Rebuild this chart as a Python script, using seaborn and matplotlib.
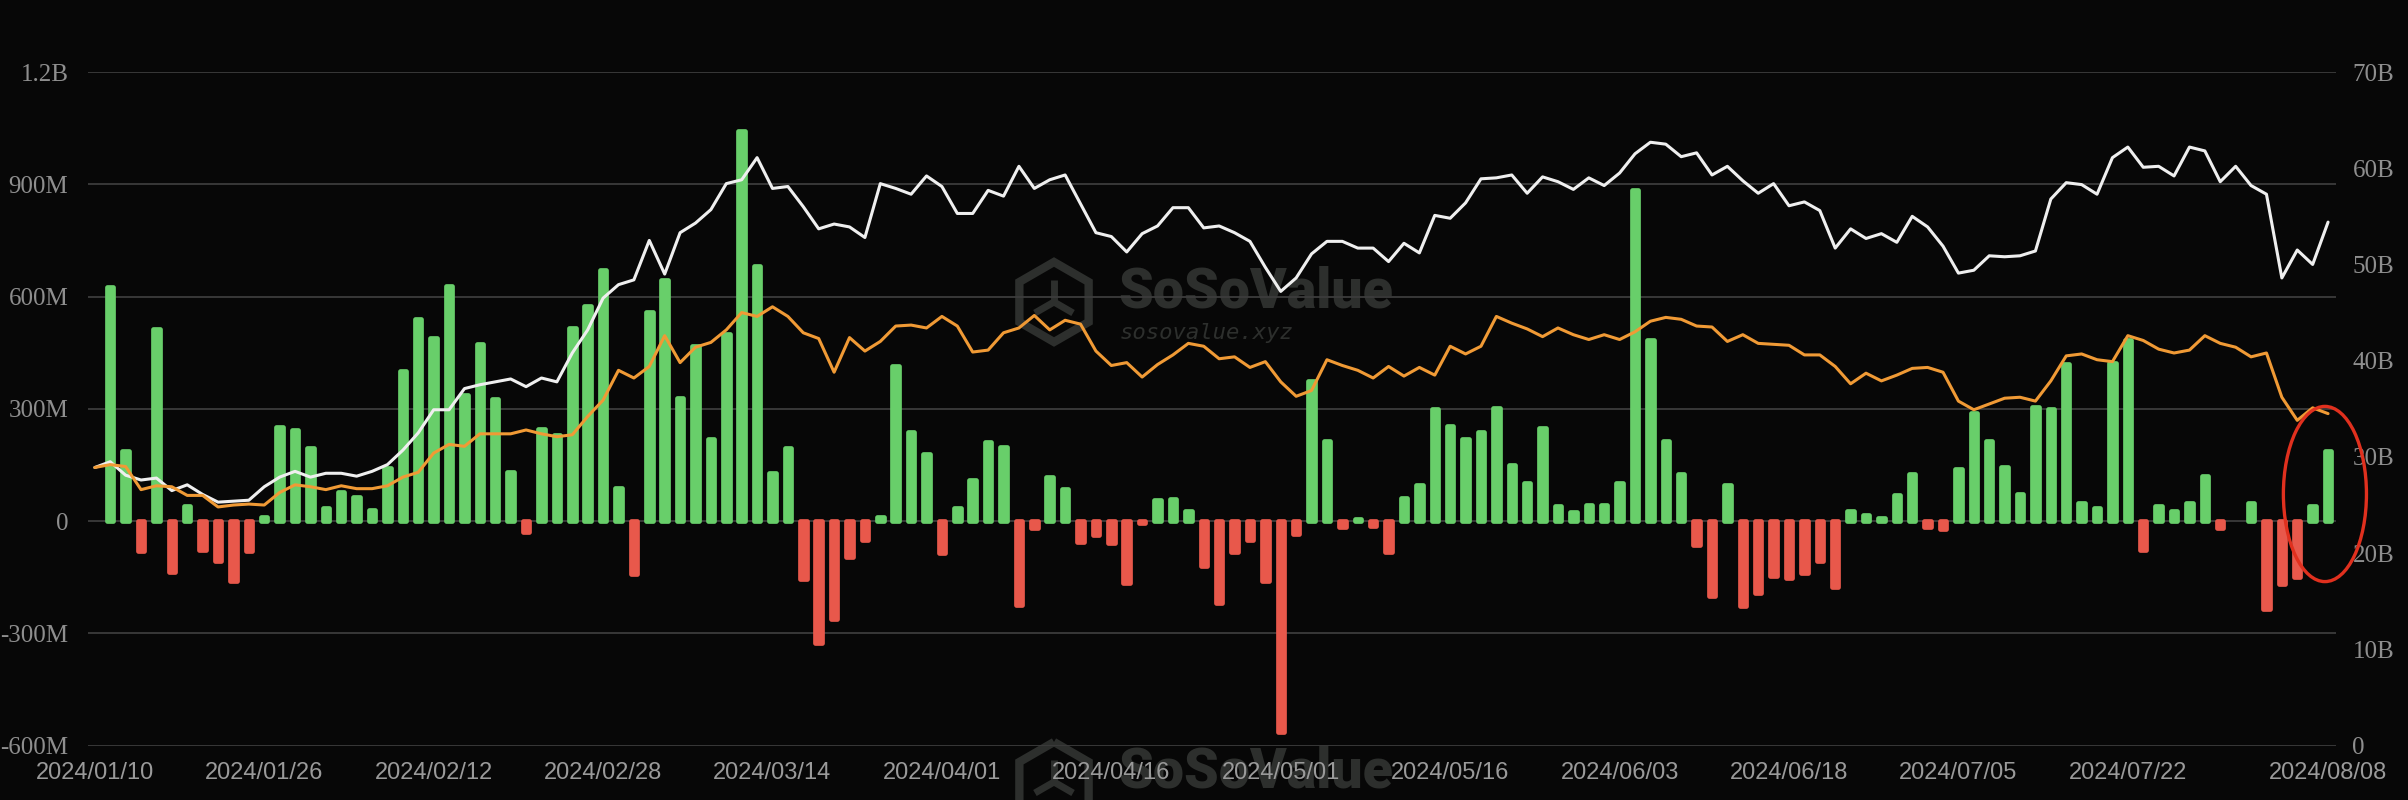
import numpy as np
import pandas as pd
import matplotlib
matplotlib.use("Agg")
import matplotlib.pyplot as plt
from matplotlib.patches import Ellipse, RegularPolygon
from matplotlib.lines import Line2D
import seaborn as sns

# trading days shown on the chart (2024/01/10 .. 2024/08/08)
holidays = ["2024-01-15", "2024-02-19", "2024-03-29", "2024-05-27", "2024-06-19", "2024-07-04"]
dates = pd.bdate_range("2024-01-10", "2024-08-08", freq="C", holidays=holidays)

# daily total net inflow, millions USD (bars, left axis)
net_inflow = [
    0, 625, 187, -80, 514, -136, 40, -77, -106, -160,
    -80, 12, 252, 243, 194, 34, 77, 65, 30, 142,
    401, 539, 490, 627, 336, 474, 326, 131, -30, 247,
    229, 516, 574, 671, 88, -142, 560, 645, 329, 469,
    219, 500, 1043, 682, 129, 194, -155, -327, -262, -95,
    -51, 10, 414, 239, 179, -86, 34, 109, 210, 199,
    -223, -19, 119, 87, -55, -38, -58, -165, -6, 56,
    60, 27, -120, -219, -83, -51, -161, -564, -35, 374,
    213, -16, 6, -12, -83, 62, 96, 299, 253, 218,
    238, 301, 149, 103, 248, 40, 23, 44, 44, 101,
    884, 484, 214, 127, -65, -200, 96, -226, -191, -147,
    -152, -140, -106, -175, 27, 17, 8, 69, 127, -16,
    -21, 138, 290, 213, 144, 73, 306, 299, 421, 49,
    34, 423, 484, -77, 40, 27, 47, 121, -18, 0,
    47, -236, -168, -149, 40, 188,
]

# total net assets, billions USD (white line, right axis)
net_assets = [
    28.9, 29.5, 28.1, 27.6, 27.8, 26.5, 27.1, 26.1, 25.3, 25.4,
    25.5, 26.9, 27.9, 28.5, 27.9, 28.3, 28.3, 28.0, 28.5, 29.2,
    30.7, 32.5, 34.9, 34.9, 37.1, 37.5, 37.8, 38.1, 37.3, 38.2,
    37.8, 40.8, 43.2, 46.5, 47.9, 48.4, 52.5, 49.0, 53.3, 54.3,
    55.7, 58.4, 58.8, 61.1, 57.9, 58.1, 56.0, 53.7, 54.2, 53.9,
    52.8, 58.4, 57.9, 57.3, 59.2, 58.1, 55.3, 55.3, 57.7, 57.1,
    60.2, 57.9, 58.8, 59.3, 56.3, 53.3, 52.9, 51.3, 53.2, 54.0,
    55.9, 55.9, 53.8, 54.0, 53.3, 52.4, 49.7, 47.2, 48.6, 51.1,
    52.4, 52.4, 51.7, 51.7, 50.3, 52.2, 51.2, 55.1, 54.8, 56.4,
    58.9, 59.0, 59.3, 57.4, 59.1, 58.6, 57.8, 59.0, 58.2, 59.5,
    61.5, 62.7, 62.5, 61.2, 61.6, 59.3, 60.2, 58.7, 57.4, 58.4,
    56.1, 56.5, 55.6, 51.7, 53.7, 52.7, 53.2, 52.3, 55.0, 53.9,
    51.9, 49.1, 49.4, 50.9, 50.8, 50.9, 51.4, 56.8, 58.5, 58.3,
    57.3, 61.1, 62.2, 60.1, 60.2, 59.2, 62.2, 61.8, 58.6, 60.2,
    58.2, 57.3, 48.6, 51.5, 50.0, 54.4,
]

# BTC price, drawn against the right scale (orange line)
btc_price = [
    28.9, 29.2, 29.0, 26.6, 27.0, 26.9, 26.0, 26.0, 24.8, 25.0,
    25.1, 25.0, 26.3, 27.1, 26.9, 26.6, 27.0, 26.7, 26.7, 27.0,
    27.9, 28.4, 30.4, 31.3, 31.1, 32.4, 32.4, 32.4, 32.8, 32.4,
    32.1, 32.3, 34.2, 35.9, 39.0, 38.2, 39.4, 42.6, 39.8, 41.4,
    41.9, 43.2, 45.0, 44.6, 45.6, 44.6, 42.9, 42.3, 38.8, 42.4,
    41.0, 42.0, 43.6, 43.7, 43.4, 44.6, 43.6, 40.9, 41.1, 42.9,
    43.4, 44.7, 43.2, 44.2, 43.8, 41.0, 39.5, 39.8, 38.3, 39.6,
    40.6, 41.8, 41.5, 40.2, 40.4, 39.3, 39.9, 37.8, 36.3, 36.9,
    40.1, 39.5, 39.0, 38.2, 39.4, 38.4, 39.3, 38.5, 41.5, 40.7,
    41.5, 44.6, 43.9, 43.3, 42.5, 43.4, 42.7, 42.2, 42.7, 42.2,
    43.0, 44.1, 44.5, 44.3, 43.6, 43.5, 42.0, 42.7, 41.8, 41.7,
    41.6, 40.6, 40.6, 39.4, 37.6, 38.7, 37.9, 38.5, 39.2, 39.3,
    38.8, 35.8, 34.9, 35.5, 36.1, 36.2, 35.8, 37.9, 40.5, 40.7,
    40.1, 39.9, 42.6, 42.1, 41.2, 40.8, 41.1, 42.6, 41.8, 41.4,
    40.4, 40.8, 36.2, 33.8, 35.1, 34.5,
]

x_labels = ["2024/01/10", "2024/01/26", "2024/02/12", "2024/02/28", "2024/03/14",
            "2024/04/01", "2024/04/16", "2024/05/01", "2024/05/16", "2024/06/03",
            "2024/06/18", "2024/07/05", "2024/07/22", "2024/08/08"]
left_ticks = [-600, -300, 0, 300, 600, 900, 1200]
left_labels = ["-600M", "-300M", "0", "300M", "600M", "900M", "1.2B"]
right_ticks = [0, 10, 20, 30, 40, 50, 60, 70]
right_labels = ["0", "10B", "20B", "30B", "40B", "50B", "60B", "70B"]

BG = "#070707"
GREEN = "#68cf6a"
RED = "#e8584b"
ORANGE = "#f09a35"
WHITE = "#efefef"
GRID = "#3c3c3c"
TXT = "#8e8e8e"
WM = "#2d2f2d"

sns.set_theme(style="dark")
plt.rcParams["font.family"] = ["Liberation Sans", "DejaVu Sans"]

df = pd.DataFrame({
    "pos": np.arange(len(dates)),
    "date": dates.strftime("%Y/%m/%d"),
    "flow": net_inflow,
    "assets": net_assets,
    "price": btc_price,
})
df["side"] = np.where(df["flow"] >= 0, "in", "out")

fig = plt.figure(figsize=(24.08, 8.0), dpi=100, facecolor=BG)
ax = fig.add_axes([0.0365, 0.068, 0.9335, 0.842])
ax.set_facecolor(BG)

sns.barplot(data=df, x="pos", y="flow", hue="side", palette={"in": GREEN, "out": RED},
            native_scale=True, dodge=False, width=0.42, saturation=1, legend=False,
            ax=ax, zorder=2)
# rounded bar ends: outline in the bar colour with round joins
for cont in ax.containers:
    for p in cont.patches:
        if p.get_height() == 0:
            p.set_visible(False)
            continue
        p.set_edgecolor(p.get_facecolor())
        p.set_linewidth(3.4)
        p.set_joinstyle("round")

# watermark (logo + name), a second copy cut by the bottom edge
for dy in (0.0, -4.8):
    cx, cy, r = 10.54, 4.98 + dy, 0.40
    ax.add_patch(RegularPolygon((cx, cy), numVertices=6, radius=r,
                                transform=fig.dpi_scale_trans, fill=False,
                                edgecolor=WM, lw=6, zorder=0.2, clip_on=False))
    for ang in (90, 210, 330):
        a = np.deg2rad(ang)
        ax.add_line(Line2D([cx, cx + 0.22 * np.cos(a)], [cy, cy + 0.22 * np.sin(a)],
                           transform=fig.dpi_scale_trans, color=WM, lw=5,
                           solid_capstyle="butt", zorder=0.2, clip_on=False))
    ax.text(11.18, 5.08 + dy, "SoSoValue", transform=fig.dpi_scale_trans, fontsize=40,
            family="Roboto", fontweight="black", color=WM, va="center", ha="left",
            zorder=0.3, clip_on=False)
    ax.text(11.20, 4.67 + dy, "sosovalue.xyz", transform=fig.dpi_scale_trans, fontsize=16,
            style="italic", family="DejaVu Sans Mono", color=WM,
            va="center", ha="left", zorder=0.3, clip_on=False)

ax.set_ylim(-600, 1200)
ax.set_yticks(left_ticks)
ax.set_yticklabels(left_labels, family="Liberation Serif", fontsize=18, color=TXT)
ax.grid(axis="y", color=GRID, lw=1.3)
ax.grid(axis="x", visible=False)
ax.set_axisbelow(True)

tick_pos = [df.index[df["date"] == d][0] for d in x_labels]
ax.set_xticks(tick_pos)
ax.set_xticklabels(x_labels, fontsize=17, color="#9a9a9a")
ax.set_xlim(-0.45, len(df) - 0.5)
ax.tick_params(axis="both", length=0)
ax.tick_params(axis="y", pad=14)
ax.tick_params(axis="x", pad=12)
ax.set_xlabel("")
ax.set_ylabel("")
for s in ax.spines.values():
    s.set_visible(False)

ax2 = ax.twinx()
sns.lineplot(data=df, x="pos", y="assets", color=WHITE, lw=2.2, ax=ax2, zorder=3)
sns.lineplot(data=df, x="pos", y="price", color=ORANGE, lw=2.2, ax=ax2, zorder=3)
ax2.set_ylim(0, 70)
ax2.set_yticks(right_ticks)
ax2.set_yticklabels(right_labels, family="Liberation Serif", fontsize=18, color=TXT)
ax2.tick_params(axis="y", length=0, pad=12)
ax2.grid(False)
ax2.set_ylabel("")
for s in ax2.spines.values():
    s.set_visible(False)
ax2.set_xlim(-0.45, len(df) - 0.5)

# red marker circle around the last sessions
fig.add_artist(Ellipse((0.9655, 0.3825), 0.0345, 0.219, transform=fig.transFigure,
                       fill=False, edgecolor="#e0301e", lw=2.4))

fig.savefig("out.png", dpi=100, facecolor=BG)
